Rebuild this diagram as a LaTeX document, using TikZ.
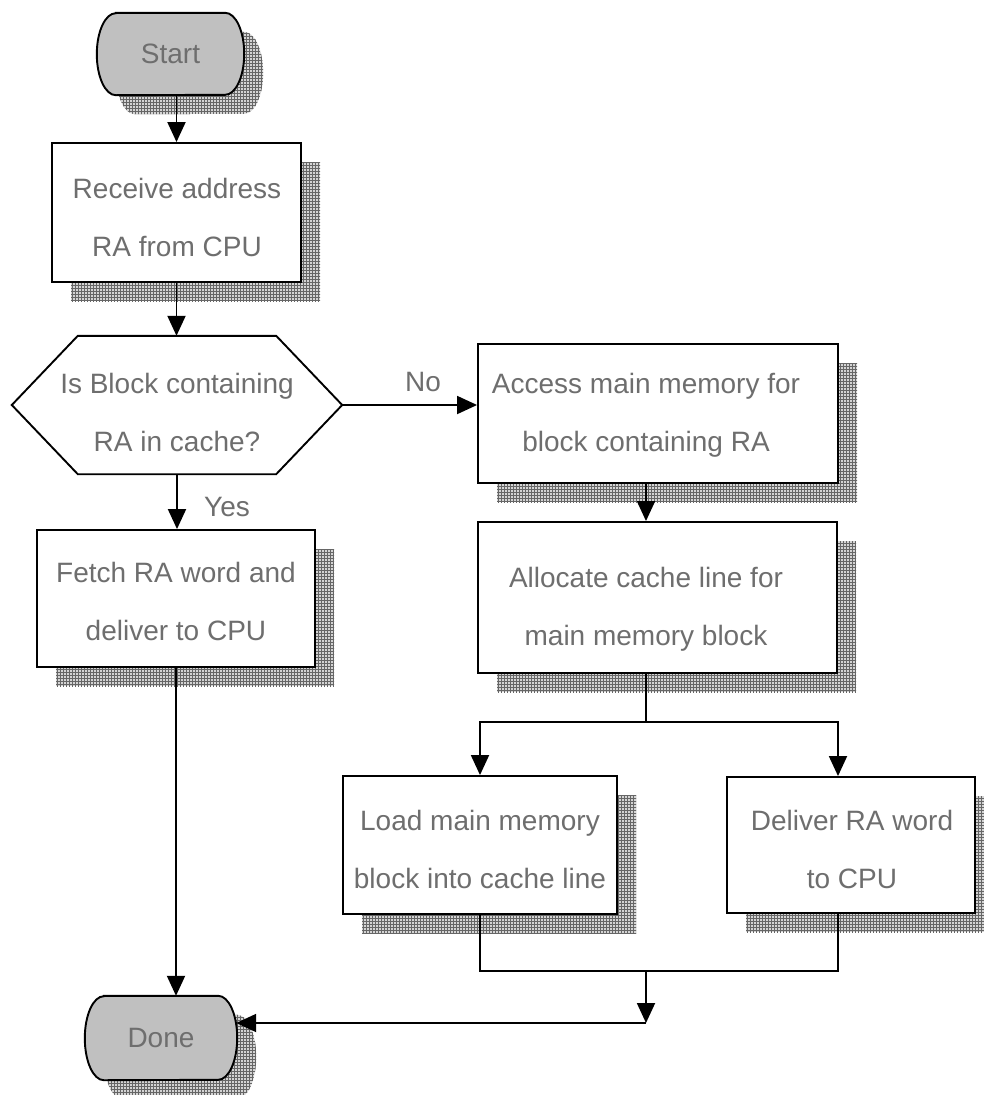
\documentclass[tikz,border=0pt]{standalone}
\usepackage{fontspec}
\setmainfont{Liberation Sans}
\usetikzlibrary{arrows.meta,patterns,calc,backgrounds}
\definecolor{termgray}{HTML}{C0C0C0}
\definecolor{txtgray}{HTML}{6E6E6E}

% terminator outline: straight top and bottom, elliptic ends
% #1 node name, #2 path options, #3 half height of the node
\newcommand\termshape[3]{%
  \path[#2] ([xshift=19pt]#1.north west) -- ([xshift=-19pt]#1.north east)
    arc[start angle=90,end angle=-90,x radius=19pt,y radius=#3]
    -- ([xshift=19pt]#1.south west)
    arc[start angle=270,end angle=90,x radius=19pt,y radius=#3] -- cycle;}

\begin{document}
\begin{tikzpicture}[x=1pt,y=-1pt,
  every node/.style={inner sep=0pt},
  txt/.style={font=\fontsize{28}{58}\selectfont, text=txtgray, align=center},
  wire/.style={line width=1.9pt, draw=black},
  arr/.style={wire, -{Triangle[length=20pt,width=18pt]}},
  shadefill/.style={draw=none, fill=black!17, transform canvas={shift={(19pt,-19pt)}}},
  shadegrid/.style={draw=none, pattern=grid, pattern color=black!60, transform canvas={shift={(19pt,-19pt)}}},
  shadowed/.style={preaction={shadefill}, preaction={shadegrid}},
  procbox/.style n args={2}{wire, fill=white, shadowed, minimum width=#1, minimum height=#2},
  term/.style n args={2}{txt, minimum width=#1, minimum height=#2}]

\useasboundingbox (0,0) rectangle (984,1095);

% terminators
\node[term={147pt}{82pt}] (start) at (170.5,54) {Start};
\node[term={152pt}{84pt}] (done) at (161,1038) {Done};
\begin{scope}[on background layer]
  \termshape{start}{shadefill}{41pt}
  \termshape{start}{shadegrid}{41pt}
  \termshape{start}{wire, fill=termgray}{41pt}
  \termshape{done}{shadefill}{42pt}
  \termshape{done}{shadegrid}{42pt}
  \termshape{done}{wire, fill=termgray}{42pt}
\end{scope}

% process boxes
\node[procbox={249pt}{139pt}] (recvbox) at (176.5,212.5) {};
\node[txt] (recvtext) at (177,217) {Receive address\\RA from CPU};

\node[procbox={360pt}{139pt}] (accessbox) at (658,413.5) {};
\node[txt] (accesstext) at (646,415) {Access main memory for\\block containing RA};

\node[procbox={278pt}{137pt}] (fetchbox) at (176,598.5) {};
\node[txt] (fetchtext) at (176,601) {Fetch RA word and\\deliver to CPU};

\node[procbox={359pt}{151pt}] (allocbox) at (657.5,597.5) {};
\node[txt] (alloctext) at (646,609) {Allocate cache line for\\main memory block};

\node[procbox={274pt}{138pt}] (loadbox) at (480,845) {};
\node[txt] (loadtext) at (480,849) {Load main memory\\block into cache line};

\node[procbox={248pt}{136pt}] (deliverbox) at (851,845) {};
\node[txt] (delivertext) at (852,849) {Deliver RA word\\to CPU};

% decision
\node[minimum width=330pt, minimum height=138pt] (dec) at (177,405) {};
\draw[wire, fill=white] (dec.west) -- ([xshift=66pt]dec.north west) -- ([xshift=-66pt]dec.north east)
  -- (dec.east) -- ([xshift=-66pt]dec.south east) -- ([xshift=66pt]dec.south west) -- cycle;
\node[txt] (dectext) at (177,412) {Is Block containing\\RA in cache?};

% connectors
\draw[arr] (start.south -| recvbox.north) -- (recvbox.north);
\draw[arr] (recvbox.south) -- (recvbox.south |- dec.north);
\draw[arr] (dec.east) -- (dec.east -| accessbox.west)
  node[txt, pos=0.6, yshift=23pt] (nolabel) {No};
\draw[arr] (dec.south) -- (dec.south |- fetchbox.north)
  node[txt, pos=0.6, xshift=50pt] (yeslabel) {Yes};
\draw[arr] (accesstext |- accessbox.south) -- (accesstext |- allocbox.north);

\coordinate (fork) at (646,722);
\coordinate (delin) at ([xshift=-13pt]deliverbox.north);
\draw[wire] (alloctext |- allocbox.south) -- (fork);
\draw[arr] (fork) -| (loadbox.north);
\draw[arr] (fork) -| (delin);

\coordinate (join) at (646,971);
\coordinate (delout) at ([xshift=-13pt]deliverbox.south);
\coordinate (joinb) at (646,1023);
\draw[wire] (loadbox.south) |- (join);
\draw[wire] (delout) |- (join);
\draw[arr] (join) -- (joinb);
\draw[arr] (joinb) -- ([xshift=-1pt]joinb -| done.east);
\draw[arr] (fetchbox.south) -- (fetchbox.south |- done.north);

\end{tikzpicture}
\end{document}
